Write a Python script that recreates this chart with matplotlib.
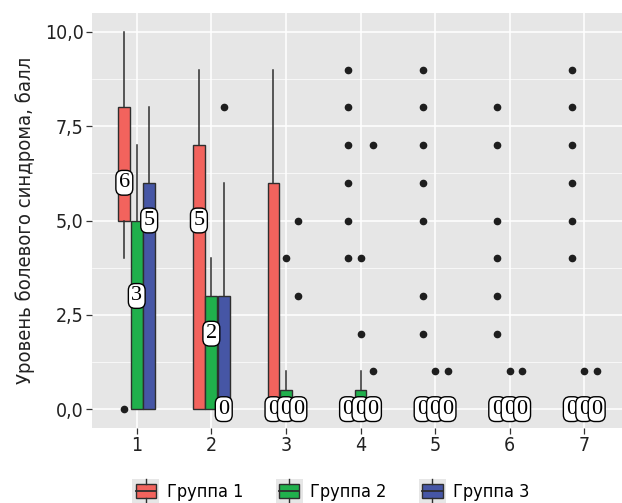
import matplotlib
matplotlib.use("Agg")
import matplotlib.pyplot as plt
from matplotlib.patches import Rectangle
from matplotlib.lines import Line2D
from matplotlib.legend_handler import HandlerBase
from matplotlib.ticker import FixedLocator

plt.rcParams['font.family'] = ['DejaVu Sans']
plt.rcParams['font.stretch'] = 'condensed'

# data: box stats per day (1..7) for each group
days = [1, 2, 3, 4, 5, 6, 7]
groups = ["Группа 1", "Группа 2", "Группа 3"]
colors = ["#F2635D", "#20B04C", "#4656A5"]

g1_q1 = [5, 0, 0, 0, 0, 0, 0]
g1_med = [6, 5, 0, 0, 0, 0, 0]
g1_q3 = [8, 7, 6, 0, 0, 0, 0]
g1_lo = [4, 0, 0, 0, 0, 0, 0]
g1_hi = [10, 9, 9, 0, 0, 0, 0]
g1_out = [[0], [], [], [9, 8, 7, 6, 5, 4], [9, 8, 7, 6, 5, 3, 2],
          [8, 7, 5, 4, 3, 2], [9, 8, 7, 6, 5, 4]]

g2_q1 = [0, 0, 0, 0, 0, 0, 0]
g2_med = [3, 2, 0, 0, 0, 0, 0]
g2_q3 = [5, 3, 0.5, 0.5, 0, 0, 0]
g2_lo = [0, 0, 0, 0, 0, 0, 0]
g2_hi = [7, 4, 1, 1, 0, 0, 0]
g2_out = [[], [], [4], [4, 2], [1], [1], [1]]

g3_q1 = [0, 0, 0, 0, 0, 0, 0]
g3_med = [5, 0, 0, 0, 0, 0, 0]
g3_q3 = [6, 3, 0, 0, 0, 0, 0]
g3_lo = [0, 0, 0, 0, 0, 0, 0]
g3_hi = [8, 6, 0, 0, 0, 0, 0]
g3_out = [[], [8], [5, 3], [7, 1], [1], [1], [1]]

yticks = [0, 2.5, 5, 7.5, 10]
ytick_labels = ["0,0", "2,5", "5,0", "7,5", "10,0"]

all_groups = [
    (g1_q1, g1_med, g1_q3, g1_lo, g1_hi, g1_out),
    (g2_q1, g2_med, g2_q3, g2_lo, g2_hi, g2_out),
    (g3_q1, g3_med, g3_q3, g3_lo, g3_hi, g3_out),
]

fig = plt.figure(figsize=(6.22, 5.03), dpi=100)
ax = fig.add_axes([92 / 622, 75 / 503, 537 / 622, 415 / 503])
ax.set_facecolor("#E6E6E6")
for s in ax.spines.values():
    s.set_visible(False)

offsets = [-1 / 6, 0, 1 / 6]
edge = "#2E2E2E"
for gi, (q1, med, q3, lo, hi, out) in enumerate(all_groups):
    stats = []
    for i in range(len(days)):
        stats.append(dict(q1=q1[i], med=med[i], q3=q3[i], whislo=lo[i],
                          whishi=hi[i], fliers=out[i]))
    pos = [d + offsets[gi] for d in days]
    ax.bxp(stats, positions=pos, widths=0.16, patch_artist=True,
           showcaps=False, manage_ticks=False,
           boxprops=dict(facecolor=colors[gi], edgecolor=edge, linewidth=1.0),
           medianprops=dict(color=edge, linewidth=1.3),
           whiskerprops=dict(color=edge, linewidth=1.1),
           flierprops=dict(marker="o", markerfacecolor="#1E1E1E",
                           markeredgecolor="#1E1E1E", markersize=4.5))

# median labels, drawn day by day so the third group sits on top
for i, d in enumerate(days):
    for gi, (q1, med, q3, lo, hi, out) in enumerate(all_groups):
        ax.text(d + offsets[gi], med[i], f"{med[i]:g}", ha="center", va="center",
                fontsize=16, family="Liberation Serif", zorder=10,
                bbox=dict(boxstyle="round,pad=0.13,rounding_size=0.3",
                          fc="white", ec="black", lw=1.0))

ax.set_xlim(0.4, 7.6)
ax.set_ylim(-0.5, 10.5)
ax.set_xticks(days)
ax.set_xticklabels([str(d) for d in days])
ax.set_yticks(yticks)
ax.set_yticklabels(ytick_labels)
ax.yaxis.set_minor_locator(FixedLocator([1.25, 3.75, 6.25, 8.75]))
ax.grid(True, which="major", color="white", linewidth=1.1)
ax.grid(True, which="minor", axis="y", color="white", linewidth=0.5)
ax.set_axisbelow(True)
ax.tick_params(axis="both", which="major", length=4, width=0.9, color="#333333",
               labelsize=14, labelcolor="#222222", pad=2)
ax.tick_params(axis="y", which="minor", length=0)
ax.set_ylabel("Уровень болевого синдрома, балл", fontsize=14.5, color="#222222",
              labelpad=7)


class BoxHandler(HandlerBase):
    def create_artists(self, legend, orig_handle, xdescent, ydescent, width,
                       height, fontsize, trans):
        x0, y0 = -xdescent, -ydescent
        c = orig_handle.get_facecolor()
        bg = Rectangle((x0, y0), width, height, fc="#E6E6E6", ec="none",
                       transform=trans)
        bx = Rectangle((x0 + width * 0.12, y0 + height * 0.2), width * 0.76,
                       height * 0.6, fc=c, ec=edge, lw=1.0, transform=trans)
        xm = x0 + width / 2
        med = Line2D([x0 + width * 0.12, x0 + width * 0.88],
                     [y0 + height / 2] * 2, color=edge, lw=1.3, transform=trans)
        w1 = Line2D([xm, xm], [y0 + height * 0.8, y0 + height], color=edge,
                    lw=1.0, transform=trans)
        w2 = Line2D([xm, xm], [y0, y0 + height * 0.2], color=edge, lw=1.0,
                    transform=trans)
        return [bg, bx, med, w1, w2]


handles = [Rectangle((0, 0), 1, 1, fc=c) for c in colors]
fig.legend(handles, groups, loc="upper center", bbox_to_anchor=(0.532, 0.047),
           ncol=3, frameon=False, fontsize=13, handlelength=1.5,
           handleheight=1.6, handletextpad=0.4, columnspacing=1.8,
           borderpad=0, borderaxespad=0,
           handler_map={Rectangle: BoxHandler()})

fig.savefig("out.png", dpi=100)
